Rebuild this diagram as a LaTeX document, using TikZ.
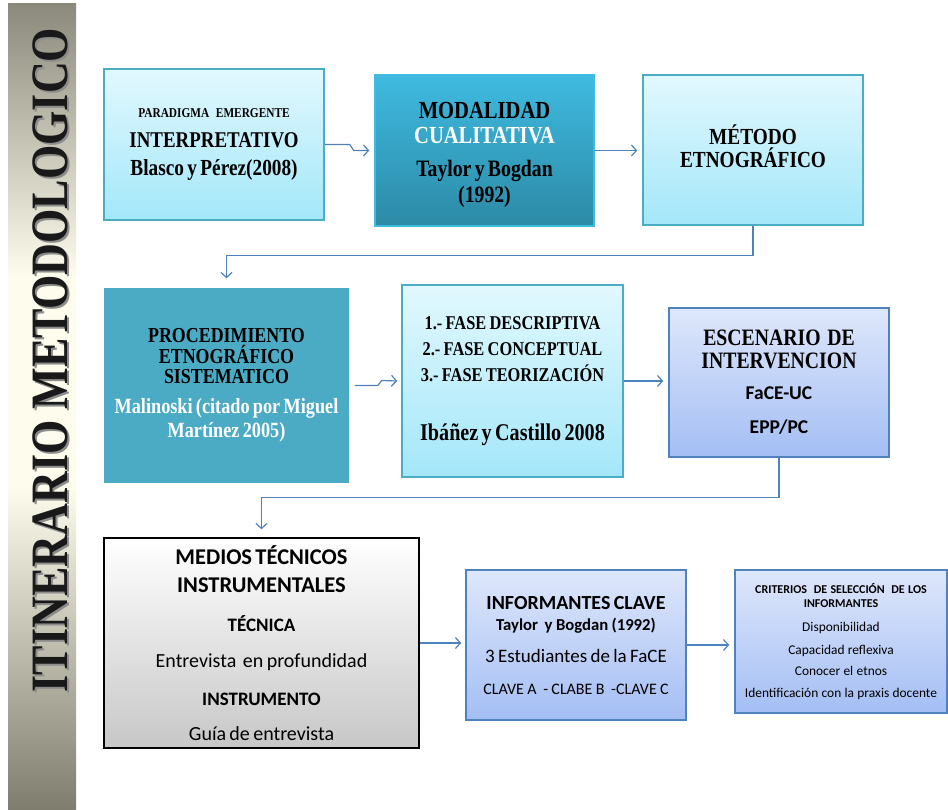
\documentclass[tikz,border=0pt]{standalone}
\usepackage{fontspec}
\usetikzlibrary{arrows.meta}
\newfontfamily\serfont[FakeStretch=0.84]{Liberation Serif}
\newfontfamily\calfont{Carlito}
\newcommand{\fs}[2]{\fontsize{#1}{#2}\selectfont}

\definecolor{cyantop}{HTML}{E2F8FE}
\definecolor{cyanbot}{HTML}{A3E7F9}
\definecolor{tealline}{HTML}{4BACC6}
\definecolor{tealtop}{HTML}{3FBAE0}
\definecolor{tealbot}{HTML}{2C8AA6}
\definecolor{tealflat}{HTML}{4BABC5}
\definecolor{bluetop}{HTML}{DEE7FB}
\definecolor{bluebot}{HTML}{A4BEF4}
\definecolor{blueline}{HTML}{4F81BD}
\definecolor{bartop}{HTML}{8B897B}
\definecolor{barbot}{HTML}{7F7D6E}
\definecolor{barmid}{HTML}{FEFCEC}

\pgfdeclareverticalshading{barshade}{100bp}{color(0bp)=(barbot); color(25bp)=(barbot);
  color(45bp)=(barmid); color(58bp)=(barmid); color(75bp)=(bartop); color(100bp)=(bartop)}

\tikzset{
  box/.style={line width=1.5pt, inner sep=0pt, align=center},
  cyanbox/.style={box, draw=tealline, top color=cyantop, bottom color=cyanbot},
  darkbox/.style={box, draw=tealtop, top color=tealtop, bottom color=tealbot},
  flatbox/.style={box, draw=tealflat, fill=tealflat},
  bluebox/.style={box, draw=blueline, top color=bluetop, bottom color=bluebot},
  greybox/.style={box, draw=black, top color=white, bottom color=black!22},
  conn/.style={draw=blueline, line width=1.2pt, -{Straight Barb[length=5pt,width=11pt]}},
}

\begin{document}
\begin{tikzpicture}[x=1pt, y=-1pt]
  \useasboundingbox (0,0) rectangle (948,809);

  % side bar
  \shade[shading=barshade] (8,3) rectangle (76,809);
  \node (titleshadow) at (52,362) [rotate=90, text=black!45] {\serfont\bfseries\fs{52.5}{52.5}ITINERARIO METODOLOGICO};
  \node (title) at (50,360) [rotate=90, text=black!90] {\serfont\bfseries\fs{52.5}{52.5}ITINERARIO METODOLOGICO};

  % first row
  \node (b1) at (214,144.5) [cyanbox, minimum width=220, minimum height=151, text width=214]
    {\serfont\bfseries\fs{13.5}{14}PARADIGMA\ \ EMERGENTE\par
     \fs{22.5}{29.4}INTERPRETATIVO\par
     \fs{23}{28.3}Blasco y Pérez(2008)\par};
  \node (b2) at (484.5,150.5) [darkbox, minimum width=219, minimum height=151, text width=213]
    {\serfont\bfseries\fs{24.5}{25}\rule{0pt}{25pt}MODALIDAD\par
     \fs{24.5}{24.4}\textcolor{white}{CUALITATIVA}\par
     \fs{23.5}{33.3}Taylor y Bogdan\par
     \fs{23.5}{25.7}(1992)\par};
  \node (b3) at (753,150) [cyanbox, minimum width=220, minimum height=150, text width=214]
    {\serfont\bfseries\fs{23}{23}MÉTODO\par
     ETNOGRÁFICO\rule[-8pt]{0pt}{8pt}\par};

  % second row
  \node (b4) at (226.5,385.5) [flatbox, minimum width=243, minimum height=193, text width=240]
    {\serfont\bfseries\fs{21.3}{21}PROCEDIMIENTO\par
     ETNOGRÁFICO\par
     \fs{21.3}{20}SISTEMATICO\par
     \fs{21.7}{30}\textcolor{white}{Malinoski (citado por Miguel}\par
     \fs{21.7}{24.3}\textcolor{white}{Martínez 2005)}\par};
  \node (b5) at (512.5,381) [cyanbox, minimum width=221, minimum height=192, text width=215]
    {\serfont\bfseries\fs{19.5}{19.5}1.- FASE DESCRIPTIVA\par
     \fs{19.5}{26}2.- FASE CONCEPTUAL\par
     \fs{19.5}{26.6}3.- FASE TEORIZACIÓN\par
     \fs{24}{58.4}Ibáñez y Castillo 2008\par};
  \node (b6) at (779,382.5) [bluebox, minimum width=220, minimum height=149, text width=214]
    {\serfont\bfseries\fs{23.5}{23}ESCENARIO\ \ DE\par
     INTERVENCION\par
     \calfont\fs{19.5}{31}FaCE-UC\par
     \fs{19.5}{34}EPP/PC\par};

  % third row
  \node (b7) at (261.5,643) [greybox, minimum width=315, minimum height=210, text width=309]
    {\calfont\bfseries\fs{22.5}{23}MEDIOS TÉCNICOS\par
     \fs{22.5}{28.4}INSTRUMENTALES\par
     \fs{19}{39}TÉCNICA\par
     \mdseries\fs{20}{36}Entrevista\ \ en profundidad\par
     \bfseries\fs{19}{37.3}INSTRUMENTO\par
     \mdseries\fs{20}{35.3}Guía de entrevista\par};
  \node (b8) at (576,645) [bluebox, minimum width=220, minimum height=150, text width=214]
    {\calfont\bfseries\fs{20}{20}INFORMANTES CLAVE\par
     \fs{16.7}{21.7}Taylor\ \ y Bogdan (1992)\par
     \mdseries\fs{19}{31.6}3 Estudiantes de la FaCE\par
     \fs{16}{31.7}CLAVE A\ \ - CLABE B\ \ -CLAVE\ C\par};
  \node (b9) at (841,641.5) [bluebox, minimum width=212, minimum height=143, text width=208]
    {\calfont\bfseries\fs{12}{12}CRITERIOS\ \ DE SELECCIÓN\ \ DE LOS\par
     \fs{12}{14}INFORMANTES\par
     \mdseries\fs{13.4}{24}Disponibilidad\par
     \fs{13.4}{22.7}Capacidad reflexiva\par
     \fs{13.4}{21.6}Conocer el etnos\par
     \fs{13.4}{21.7}Identificación con la praxis docente\par};

  % connectors
  \draw[conn] (b1.east) -- ++(25,0) -- ++(4,6) -- ([xshift=-5pt]b2.west);
  \draw[conn, shorten >=5pt] (b2.east) -- (b2.east -| b3.west);
  \draw[conn] (b3.south) -- ++(0,30) -| ([yshift=10pt]b4.north);
  \draw[conn] ([xshift=6pt]b4.east) -- ++(23,0) -- ++(4,-5) -- ([xshift=-4pt]b5.west);
  \draw[conn, shorten >=5pt] (b5.east) -- (b5.east -| b6.west);
  \draw[conn] (b6.south) -- ++(0,40) -| ([yshift=8pt]b7.north);
  \draw[conn, shorten >=4pt] (b7.east) -- (b7.east -| b8.west);
  \draw[conn, shorten >=5pt] (b8.east) -- (b8.east -| b9.west);
\end{tikzpicture}
\end{document}
